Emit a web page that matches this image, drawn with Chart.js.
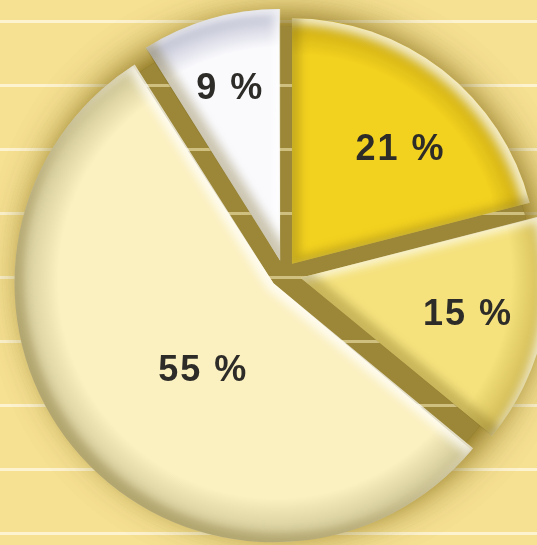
<!DOCTYPE html>
<html>
<head>
<meta charset="utf-8">
<script src="https://cdn.jsdelivr.net/npm/chart.js@4.4.1/dist/chart.umd.min.js"></script>
<style>
    html, body { margin: 0; padding: 0; background: #f6e193; }
    #wrap { width: 537px; height: 545px; position: relative; }
</style>
</head>
<body>
<div id="wrap"><canvas id="pieChart"></canvas></div>
<script>
// Data (share of total, in %)
const shares = [21, 15, 55, 9];
const sliceLabels = shares.map(v => v + ' %');

// Styling
const baseColors = ['#f3d21f', '#f5e27d', '#fbf0bf', '#fafafd'];
const rimColors = ['#cfae14', '#d5bf5a', '#d3ca9a', '#c4c6d6'];
const explode = [13, 17, 14, 14];          // px the slice is pulled out
const labelFrac = [0.64, 0.70, 0.46, 0.73]; // label distance / radius
const labelTurn = [6, 0, -10, 0];          // label angle nudge, degrees
const R = 245;
const total = shares.reduce((a, b) => a + b, 0);

const sliceFill = (context) => {
    const chart = context.chart;
    const area = chart.chartArea;
    const i = context.dataIndex;
    if (!area) return baseColors[i];
    const cx = (area.left + area.right) / 2;
    const cy = (area.top + area.bottom) / 2;
    const circ = 2 * Math.PI * shares[i] / total;
    const rEff = R + explode[i] * (1 - Math.sin(Math.min(Math.PI, circ)));
    const g = chart.ctx.createRadialGradient(cx + 0.06 * rEff, cy - 0.06 * rEff, 0, cx, cy, rEff);
    g.addColorStop(0, baseColors[i]);
    g.addColorStop(0.84, baseColors[i]);
    g.addColorStop(0.97, rimColors[i]);
    g.addColorStop(1, rimColors[i]);
    return g;
};

// geometry of a drawn arc, same as Chart.js places it
const arcPath = (el) => {
    const {x, y, startAngle, endAngle, outerRadius} = el.getProps(['x', 'y', 'startAngle', 'endAngle', 'outerRadius'], true);
    const off = (el.options.offset || 0) / 4;
    const mid = (startAngle + endAngle) / 2;
    const r = outerRadius + off * (1 - Math.sin(Math.min(Math.PI, endAngle - startAngle)));
    const vx = x + Math.cos(mid) * off;
    const vy = y + Math.sin(mid) * off;
    const p = new Path2D();
    p.moveTo(vx, vy);
    p.arc(vx, vy, r, startAngle, endAngle);
    p.closePath();
    return {p, vx, vy, r, mid};
};

const drawLines = (ctx, w, color) => {
    ctx.strokeStyle = color;
    ctx.lineWidth = 3;
    for (let y = 21.5; y < 545; y += 64) {
        ctx.beginPath();
        ctx.moveTo(0, y);
        ctx.lineTo(w, y);
        ctx.stroke();
    }
};

const backdrop = {
    id: 'backdrop',
    beforeDraw(chart) {
        const ctx = chart.ctx;
        ctx.save();
        ctx.fillStyle = '#f6e193';
        ctx.fillRect(0, 0, chart.width, chart.height);
        drawLines(ctx, chart.width, '#fdf4cf');
        ctx.restore();
    },
    beforeDatasetsDraw(chart) {
        const el = chart.getDatasetMeta(0).data[0];
        if (!el) return;
        const ctx = chart.ctx;
        const disc = new Path2D();
        disc.arc(el.x, el.y, R + 3, 0, Math.PI * 2);
        ctx.save();
        ctx.shadowColor = 'rgba(115, 90, 5, 0.85)';
        ctx.shadowBlur = 44;
        ctx.fillStyle = '#9b8737';
        ctx.fill(disc);
        ctx.fill(disc);
        ctx.restore();
        ctx.save();
        ctx.clip(disc);
        drawLines(ctx, chart.width, 'rgba(250, 238, 190, 0.55)');
        ctx.restore();
    },
    afterDatasetsDraw(chart) {
        const ctx = chart.ctx;
        const meta = chart.getDatasetMeta(0);
        meta.data.forEach((el, i) => {
            const {p, vx, vy, r, mid} = arcPath(el);
            const hole = new Path2D();
            hole.rect(-2000, -2000, 5000, 5000);
            hole.addPath(p);
            // light from upper right
            ctx.save();
            ctx.clip(p);
            ctx.filter = 'blur(5px)';
            ctx.save();
            ctx.translate(-6, 6);
            ctx.fillStyle = 'rgba(255, 255, 255, 0.75)';
            ctx.fill(hole, 'evenodd');
            ctx.restore();
            ctx.save();
            ctx.translate(8, -8);
            ctx.fillStyle = 'rgba(110, 90, 20, 0.32)';
            ctx.fill(hole, 'evenodd');
            ctx.restore();
            ctx.restore();

            // percentage label
            const a = mid + labelTurn[i] * Math.PI / 180;
            const d = labelFrac[i] * R;
            ctx.save();
            ctx.font = 'bold 36px "Liberation Sans", Arial, sans-serif';
            ctx.letterSpacing = '2px';
            ctx.fillStyle = '#2d2c28';
            ctx.textAlign = 'center';
            ctx.textBaseline = 'middle';
            ctx.fillText(sliceLabels[i], vx + Math.cos(a) * d, vy + Math.sin(a) * d);
            ctx.restore();
        });
    }
};

const pieChart = new Chart(document.getElementById('pieChart'), {
    type: 'pie',
    data: {
        labels: sliceLabels,
        datasets: [{
            data: shares,
            backgroundColor: sliceFill,
            borderWidth: 0,
            offset: explode.map(v => v * 4),
            radius: R,
            clip: false
        }]
    },
    options: {
        responsive: true,
        maintainAspectRatio: false,
        animation: false,
        layout: { padding: { left: 31, top: 3, right: 0, bottom: 0 } },
        plugins: {
            legend: { display: false },
            tooltip: { enabled: false }
        }
    },
    plugins: [backdrop]
});
</script>
</body>
</html>
